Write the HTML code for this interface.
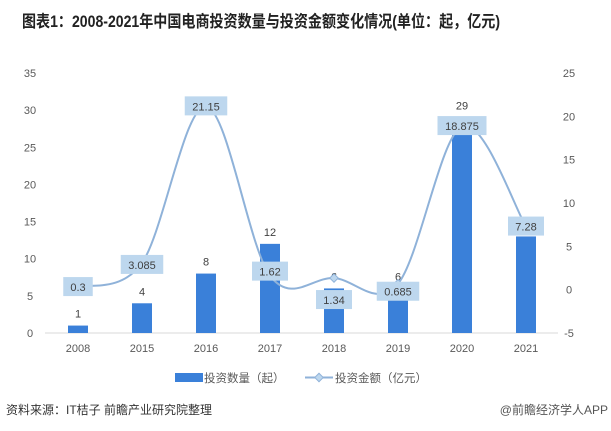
<!DOCTYPE html>
<html><head><meta charset="utf-8"><style>
body{margin:0;background:#fff;font-family:"Liberation Sans","Noto Sans CJK SC",sans-serif;}
#wrap{position:relative;width:611px;height:431px;overflow:hidden;}
</style></head><body>
<div id="wrap">
<svg id="chart" width="611" height="431"></svg>
</div>
<script>
const categories=["2008","2015","2016","2017","2018","2019","2020","2021"];
const counts=[1,4,8,12,6,6,29,13];
const amounts=[0.3,3.085,21.15,1.62,1.34,0.685,18.875,7.28];
const amountLabels=["0.3","3.085","21.15","1.62","1.34","0.685","18.875","7.28"];
const leftTicks=[0,5,10,15,20,25,30,35];
const rightTicks=[-5,0,5,10,15,20,25];
const labelShift=[0,2,0,-4,22,8,0,0];
const NS="http://www.w3.org/2000/svg";
const svg=document.getElementById('chart');
function mk(t,a,p){const e=document.createElementNS(NS,t);for(const k in a)e.setAttribute(k,a[k]);(p||svg).appendChild(e);return e;}
const y0=333,y1=73;
const yL=v=>y0-(v/35)*(y0-y1);
const yR=v=>y0-((v+5)/30)*(y0-y1);
const xC=i=>78+i*64;
const CN='"Liberation Sans","Noto Sans CJK SC",sans-serif';
let t=mk('text',{x:22,y:27,'font-size':'16.5','font-weight':'bold',fill:'#222','font-family':CN,textLength:478,lengthAdjust:'spacingAndGlyphs'});
t.textContent='图表1：2008-2021年中国电商投资数量与投资金额变化情况(单位：起，亿元)';

leftTicks.forEach(v=>{const e=mk('text',{x:30,y:yL(v)+4,'text-anchor':'middle','font-size':'11',fill:'#595959'});e.textContent=v;
});
rightTicks.forEach(v=>{const e=mk('text',{x:569,y:yR(v)+4,'text-anchor':'middle','font-size':'11',fill:'#595959'});e.textContent=v;
});
let ax=mk('line',{x1:45,x2:558,y1:y0,y2:y0,stroke:'#d9d9d9','stroke-width':1});

categories.forEach((c,i)=>{
 const b=mk('rect',{x:xC(i)-10,y:yL(counts[i]),width:20,height:y0-yL(counts[i]),fill:'#3a80d9'});
 
 const l=mk('text',{x:xC(i),y:yL(counts[i])-8,'text-anchor':'middle','font-size':'11',fill:'#404040'});l.textContent=counts[i];
 
 const xl=mk('text',{x:xC(i),y:352,'text-anchor':'middle','font-size':'11',fill:'#595959'});xl.textContent=c;
 
});
const pts=amounts.map((v,i)=>[xC(i),yR(v)]);
let d='M'+pts[0][0]+','+pts[0][1];
for(let i=0;i<pts.length-1;i++){const p0=pts[i-1]||pts[i],p1=pts[i],p2=pts[i+1],p3=pts[i+2]||p2;
 d+=` C${p1[0]+(p2[0]-p0[0])/6},${p1[1]+(p2[1]-p0[1])/6} ${p2[0]-(p3[0]-p1[0])/6},${p2[1]-(p3[1]-p1[1])/6} ${p2[0]},${p2[1]}`;}
let ln=mk('path',{d:d,fill:'none',stroke:'#8fb2d9','stroke-width':2});

pts.forEach((p,i)=>{
 const m=mk('rect',{x:p[0]-3,y:p[1]-3,width:6,height:6,fill:'#bdd7ee',stroke:'#8fb2d9',transform:`rotate(45 ${p[0]} ${p[1]})`});
 
});
pts.forEach((p,i)=>{
 const w=amountLabels[i].length*6.5+10;const cy=p[1]+labelShift[i];
 const bx=mk('rect',{x:p[0]-w/2,y:cy-10,width:w,height:19,fill:'#bdd7ee'});
 
 const tx=mk('text',{x:p[0],y:cy+4,'text-anchor':'middle','font-size':'11',fill:'#404040'});tx.textContent=amountLabels[i];
 
});
let g=mk('g',{});
let lr=mk('rect',{x:175,y:373,width:28,height:9,fill:'#3a80d9'},g);
let lt=mk('text',{x:204,y:382,'font-size':'11.5',fill:'#595959','font-family':CN},g);lt.textContent='投资数量（起）';

let ll=mk('line',{x1:305,x2:333,y1:377.5,y2:377.5,stroke:'#8fb2d9','stroke-width':2},g);
let lm=mk('rect',{x:316,y:374.5,width:6,height:6,fill:'#bdd7ee',stroke:'#8fb2d9',transform:'rotate(45 319 377.5)'},g);
let lt2=mk('text',{x:335,y:382,'font-size':'11.5',fill:'#595959','font-family':CN},g);lt2.textContent='投资金额（亿元）';

let s=mk('text',{x:6,y:414,'font-size':'12',fill:'#333','font-family':CN});s.textContent='资料来源：IT桔子 前瞻产业研究院整理';

let s2=mk('text',{x:608,y:414,'text-anchor':'end','font-size':'12',fill:'#555','font-family':CN});s2.textContent='@前瞻经济学人APP';

</script>
</body></html>
